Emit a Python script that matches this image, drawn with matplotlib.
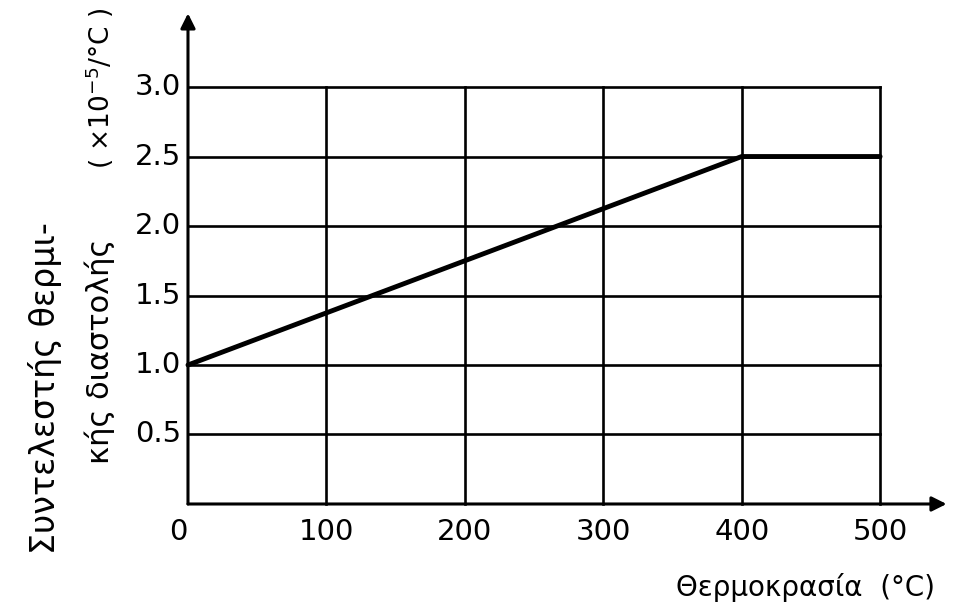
import matplotlib
matplotlib.use("Agg")
import matplotlib.pyplot as plt

# thermal expansion coefficient vs temperature
temperature = [0, 400, 500]
coefficient = [1.0, 2.5, 2.5]

x_ticks = [0, 100, 200, 300, 400, 500]
y_ticks = [0.5, 1.0, 1.5, 2.0, 2.5, 3.0]
y_ticklabels = ["0.5", "1.0", "1.5", "2.0", "2.5", "3.0"]

plt.rcParams["font.family"] = ["DejaVu Sans"]

fig = plt.figure(figsize=(9.71, 6.15), dpi=100)
ax = fig.add_axes([0.1936, 0.1805, 0.7128, 0.678])
ax.set_xlim(0, 500)
ax.set_ylim(0, 3.0)

for s in ax.spines.values():
    s.set_visible(False)

# grid
for x in x_ticks[1:]:
    ax.plot([x, x], [0, 3.0], color="black", lw=1.9, clip_on=False)
for y in y_ticks:
    ax.plot([0, 500], [y, y], color="black", lw=1.9, clip_on=False)

# axes with arrows
ax.annotate("", xy=(0, 3.53), xytext=(0, 0), xycoords="data",
            arrowprops=dict(arrowstyle="-|>", color="black", lw=2.2,
                            mutation_scale=22, shrinkA=0, shrinkB=0),
            annotation_clip=False)
ax.annotate("", xy=(548, 0), xytext=(0, 0), xycoords="data",
            arrowprops=dict(arrowstyle="-|>", color="black", lw=2.2,
                            mutation_scale=22, shrinkA=0, shrinkB=0),
            annotation_clip=False)

ax.plot(temperature, coefficient, color="black", lw=3.5, solid_capstyle="round",
        clip_on=False, zorder=5)

ax.set_xticks([])
ax.set_yticks([])

# tick labels
for x in x_ticks:
    xpos = -7 if x == 0 else x
    ax.text(xpos, -0.2, str(x), ha="center", va="center", fontsize=21)
for y, lab in zip(y_ticks, y_ticklabels):
    ax.text(-5, y, lab, ha="right", va="center", fontsize=21)

# axis titles
fig.text(0.046, 0.369, "Συντελεστής θερμι-", rotation=90, ha="center", va="center",
         fontsize=24)
fig.text(0.103, 0.428, "κής διαστολής", rotation=90, ha="center", va="center",
         fontsize=22)
fig.text(0.103, 0.857, "( ×10$^{-5}$/°C )", rotation=90, ha="center", va="center",
         fontsize=19)
fig.text(0.830, 0.044, "Θερμοκρασία  (°C)", ha="center", va="center", fontsize=20)

fig.savefig("out.png", dpi=100)
